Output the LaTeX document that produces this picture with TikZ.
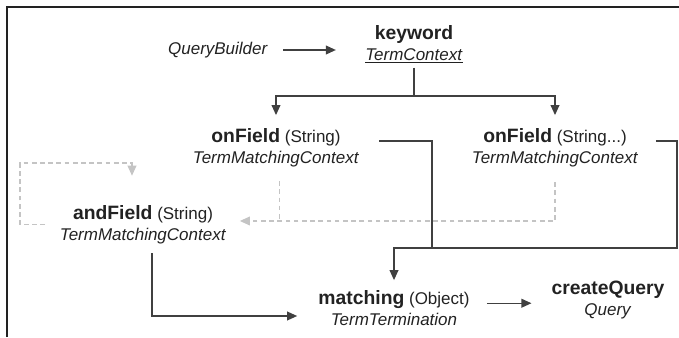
\documentclass[tikz,border=0pt]{standalone}
\usepackage{fontspec}
\setmainfont{Liberation Sans}
\usepackage{tikz}
\usetikzlibrary{arrows.meta}
\definecolor{inkgray}{HTML}{222222}
\definecolor{linegray}{HTML}{404040}
\definecolor{dashgray}{HTML}{C4C4C4}
\newcommand{\callname}[1]{{\fontsize{16.5}{18}\selectfont\bfseries #1}}
\tikzstyle{call} = [align=center, inner sep=1pt, text=inkgray, font=\fontsize{14.5}{18}\selectfont]
\tikzstyle{link} = [draw=linegray, line width=1pt]
\tikzstyle{arrow} = [link, -{Triangle[length=8.5pt,width=7.5pt]}]
\tikzstyle{dashlink} = [draw=dashgray, line width=0.9pt, dash pattern=on 4pt off 3pt]
\tikzstyle{dasharrow} = [dashlink, -{Triangle[length=8.5pt,width=7.5pt]}]

\begin{document}
\begin{tikzpicture}[x=0.03cm, y=-0.03cm]
                        \useasboundingbox (0,0) rectangle (679,337);
                        \draw [line width=1.6pt, draw=inkgray] (7,337) -- (7,7) -- (679,7);
                        % calls
                        \node [call] (qb) at (218, 50) {\textit{QueryBuilder}};
                        \node [call] (kw) at (414, 44) {\callname{keyword}\\\underline{\textit{TermContext}}};
                        \node [call] (of1) at (276, 147.5) {\callname{onField} (String)\\\textit{TermMatchingContext}};
                        \node [call] (of2) at (555, 147.5) {\callname{onField} (String...)\\\textit{TermMatchingContext}};
                        \node [call] (af) at (143, 224.5) {\callname{andField} (String)\\\textit{TermMatchingContext}};
                        \node [call] (mt) at (394, 308.5) {\callname{matching} (Object)\\\textit{TermTermination}};
                        \node [call] (cq) at (608, 300) {\callname{createQuery}\\\textit{Query}};
                        \coordinate (split) at (414, 96);
                        \coordinate (bend1) at (432, 248);
                        \coordinate (bend2) at (677, 248);
                        \coordinate (loop) at (20, 163);
                        % solid connectors
                        \draw [arrow, shorten >=24pt] ([xshift=12pt]qb.east) -- (qb.east -| kw.west);
                        \draw [link] ([yshift=-3pt]kw.south) -- (split);
                        \draw [arrow] (split) -| ([yshift=10pt]of1.north);
                        \draw [arrow] (split) -| ([yshift=10pt]of2.north);
                        \draw [link] ([shift={(16pt,5.5pt)}]of1.east) -| (bend1);
                        \draw [arrow] ([shift={(14pt,5.5pt)}]of2.east) -| (bend2) -| ([yshift=8pt]mt.north);
                        \draw [arrow] ([shift={(7.7pt,-7pt)}]af.south) |- ([shift={(-17pt,-6.4pt)}]mt.west);
                        \draw [arrow, shorten >=16pt] ([shift={(13.5pt,4.5pt)}]mt.east) coordinate (out) -- (out -| cq.west);
                        % dashed connectors
                        \coordinate (dashbus) at ([shift={(10.6pt,3pt)}]af.east);
                        \draw [dasharrow] ([yshift=-12pt]of2.south) |- (dashbus);
                        \draw [dashlink] ([shift={(3pt,-11pt)}]of1.south) coordinate (down) -- (down |- dashbus);
                        \draw [dasharrow] ([xshift=-11.5pt]af.west) -| (loop) -| ([shift={(-9.4pt,24pt)}]af.north);
\end{tikzpicture}
\end{document}
